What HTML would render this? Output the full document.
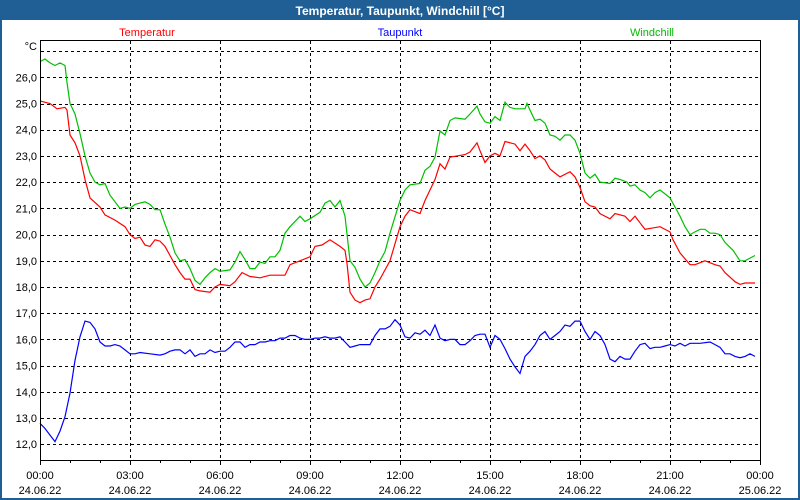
<!DOCTYPE html>
<html><head><meta charset="utf-8"><style>
html,body{margin:0;padding:0;background:#fff;}
svg{display:block;font-family:"Liberation Sans",sans-serif;}
</style></head><body>
<svg id="chart" width="800" height="500" viewBox="0 0 800 500" xmlns="http://www.w3.org/2000/svg">
<rect x="0" y="0" width="800" height="500" fill="#1f5f96"/>
<rect x="2" y="20" width="796" height="478" fill="#fff"/>
<text x="400" y="15" text-anchor="middle" fill="#fff" font-weight="bold" font-size="12">Temperatur, Taupunkt, Windchill [°C]</text>
<text x="147" y="36" text-anchor="middle" fill="#ff0000" font-size="11">Temperatur</text>
<text x="400" y="36" text-anchor="middle" fill="#0000ff" font-size="11">Taupunkt</text>
<text x="652" y="36" text-anchor="middle" fill="#00bb00" font-size="11">Windchill</text>
<text x="37" y="50" text-anchor="end" font-size="11" fill="#000">°C</text>
<g id="grid"></g>
<g id="axes"></g>
<g id="series"></g>
<rect x="40.5" y="40.5" width="720" height="420" fill="none" stroke="#000" stroke-width="1"/>
</svg>
<script>
const yTicks = [12,13,14,15,16,17,18,19,20,21,22,23,24,25,26];
const xTickHours = [0,3,6,9,12,15,18,21,24];
const xTimeLabels = ["00:00","03:00","06:00","09:00","12:00","15:00","18:00","21:00","00:00"];
const xDateLabels = ["24.06.22","24.06.22","24.06.22","24.06.22","24.06.22","24.06.22","24.06.22","24.06.22","25.06.22"];

const tempMin = [0,20,34,50,54,60,70,80,90,100,120,130,150,170,180,190,200,210,220,230,240,250,260,270,280,290,300,310,320,340,350,360,380,390,404,420,440,460,490,500,520,540,550,564,580,600,610,614,620,630,640,650,660,670,680,700,720,730,740,760,770,780,790,800,810,820,850,860,874,880,890,900,910,920,930,950,960,970,980,990,1000,1010,1020,1030,1040,1060,1070,1080,1090,1100,1110,1120,1140,1150,1170,1180,1190,1200,1210,1240,1260,1266,1280,1300,1310,1330,1350,1360,1370,1390,1400,1410,1430];
const tempVal = [25.1,25.0,24.8,24.85,24.75,23.8,23.5,23.0,22.1,21.4,21.05,20.75,20.55,20.3,20.0,19.85,19.9,19.6,19.55,19.8,19.75,19.55,19.2,18.85,18.55,18.3,18.3,17.9,17.85,17.8,18.0,18.1,18.05,18.2,18.55,18.4,18.35,18.45,18.45,18.85,19.0,19.15,19.55,19.6,19.8,19.55,19.4,18.9,17.8,17.5,17.4,17.5,17.55,18.0,18.3,19.0,20.3,20.7,20.95,20.8,21.3,21.7,22.1,22.7,22.5,22.95,23.05,23.15,23.5,23.2,22.75,23.0,23.1,23.0,23.55,23.45,23.2,23.45,23.2,22.9,23.0,22.85,22.5,22.35,22.2,22.4,22.2,21.8,21.25,21.1,21.05,20.8,20.6,20.8,20.7,20.5,20.7,20.45,20.2,20.3,20.1,19.8,19.3,18.85,18.85,19.0,18.85,18.8,18.55,18.2,18.1,18.15,18.15];

const chillMin = [0,10,20,30,40,50,54,60,70,80,90,100,110,120,130,140,150,160,170,180,190,210,220,230,240,250,260,270,280,290,300,310,320,330,340,350,360,380,390,400,410,420,430,440,450,460,470,480,490,500,520,530,540,560,570,580,590,600,610,620,630,640,650,660,670,680,690,700,720,730,740,760,770,780,790,800,810,820,830,850,860,874,880,890,900,910,920,930,940,950,970,974,980,990,1000,1010,1020,1030,1040,1050,1060,1070,1080,1090,1100,1110,1120,1140,1150,1160,1174,1180,1190,1200,1210,1220,1230,1240,1250,1260,1270,1280,1290,1300,1310,1320,1330,1340,1350,1360,1370,1386,1400,1410,1420,1430];
const chillVal = [26.6,26.7,26.55,26.45,26.55,26.45,25.8,25.0,24.6,23.85,23.0,22.35,22.0,21.9,21.95,21.5,21.25,21.0,21.05,21.0,21.15,21.25,21.15,20.95,20.95,20.4,19.9,19.3,19.0,19.05,18.7,18.25,18.1,18.35,18.55,18.7,18.6,18.65,18.95,19.35,19.05,18.7,18.7,18.95,18.9,19.15,19.15,19.4,20.05,20.3,20.7,20.5,20.6,20.85,21.2,21.3,21.05,21.3,20.7,19.0,18.75,18.3,18.0,18.15,18.55,19.0,19.35,20.05,21.3,21.7,21.9,21.95,22.45,22.6,22.95,23.95,23.8,24.35,24.45,24.4,24.6,24.9,24.6,24.3,24.25,24.5,24.35,25.05,24.85,24.8,24.8,25.0,24.75,24.35,24.4,24.25,23.8,23.75,23.6,23.8,23.8,23.6,23.1,22.35,22.15,22.3,22.0,21.95,22.15,22.1,22.0,21.85,21.9,21.7,21.6,21.4,21.6,21.7,21.55,21.4,21.05,20.7,20.3,20.0,20.1,20.2,20.2,20.05,20.05,20.0,19.7,19.4,19.0,19.0,19.1,19.2];

const dewMin = [0,10,20,30,40,50,60,70,80,90,100,110,120,130,140,150,160,170,180,190,200,220,240,250,260,270,280,290,300,310,320,330,340,350,360,370,380,390,400,410,420,430,440,450,460,470,480,490,500,510,520,530,540,550,560,570,580,590,600,610,620,630,640,650,660,670,680,690,700,710,720,730,740,750,760,770,780,790,800,810,820,830,840,850,860,870,880,890,900,910,920,930,940,950,960,970,980,990,1000,1010,1020,1030,1040,1050,1060,1070,1080,1090,1100,1110,1120,1130,1140,1150,1160,1170,1180,1190,1200,1210,1220,1230,1240,1250,1260,1270,1280,1290,1300,1320,1340,1350,1360,1370,1380,1390,1400,1410,1420,1430];
const dewVal = [12.8,12.6,12.35,12.1,12.5,13.05,13.95,15.2,16.1,16.7,16.65,16.4,15.9,15.75,15.75,15.8,15.75,15.6,15.45,15.45,15.5,15.45,15.4,15.45,15.55,15.6,15.6,15.45,15.6,15.35,15.45,15.45,15.6,15.5,15.55,15.55,15.7,15.9,15.9,15.7,15.8,15.8,15.9,15.9,15.95,15.95,16.05,16.05,16.15,16.15,16.05,16.0,16.0,16.05,16.05,16.1,16.05,16.05,16.1,15.9,15.7,15.75,15.8,15.8,15.8,16.15,16.4,16.4,16.5,16.75,16.55,16.1,16.05,16.25,16.2,16.35,16.15,16.55,16.05,15.95,16.0,16.0,15.8,15.8,15.95,16.15,16.2,16.2,15.7,16.15,16.0,15.65,15.25,14.95,14.7,15.35,15.55,15.8,16.15,16.3,16.0,16.15,16.3,16.55,16.5,16.7,16.7,16.3,16.0,16.3,16.15,15.8,15.25,15.15,15.35,15.25,15.25,15.55,15.8,15.85,15.65,15.7,15.7,15.75,15.8,15.75,15.85,15.75,15.85,15.85,15.9,15.8,15.7,15.45,15.45,15.35,15.3,15.35,15.45,15.35];

const NS = "http://www.w3.org/2000/svg";
function yScale(v){ return 77.3 + (26 - v) * 26.21; }
function xScale(min){ return 40 + min / 2; }
function xHour(h){ return 40 + h * 30; }

const grid = document.getElementById('grid');
const axes = document.getElementById('axes');
const series = document.getElementById('series');

// horizontal gridlines (incl. unlabeled 27)
[...yTicks, 27].forEach(v => {
  const y = Math.round(yScale(v)) + 0.5;
  const l = document.createElementNS(NS, 'line');
  l.setAttribute('x1', 41); l.setAttribute('x2', 760);
  l.setAttribute('y1', y); l.setAttribute('y2', y);
  l.setAttribute('stroke', '#000'); l.setAttribute('stroke-dasharray', '3,3');
  
  
  grid.appendChild(l);
});
yTicks.forEach(v => {
  const t = document.createElementNS(NS, 'text');
  t.setAttribute('x', 37); t.setAttribute('y', yScale(v) + 4);
  t.setAttribute('text-anchor', 'end'); t.setAttribute('font-size', '11');
  t.textContent = v.toFixed(1).replace('.', ',');
  
  
  axes.appendChild(t);
});
// vertical gridlines
xTickHours.forEach((h, i) => {
  const x = Math.round(xHour(h)) + 0.5;
  if (h > 0 && h < 24) {
    const l = document.createElementNS(NS, 'line');
    l.setAttribute('x1', x); l.setAttribute('x2', x);
    l.setAttribute('y1', 41); l.setAttribute('y2', 460);
    l.setAttribute('stroke', '#000'); l.setAttribute('stroke-dasharray', '3,3');
    
    
    grid.appendChild(l);
  }
  const t1 = document.createElementNS(NS, 'text');
  t1.setAttribute('x', xHour(h)); t1.setAttribute('y', 479);
  t1.setAttribute('text-anchor', 'middle'); t1.setAttribute('font-size', '11');
  t1.textContent = xTimeLabels[i];
  
  
  axes.appendChild(t1);
  const t2 = document.createElementNS(NS, 'text');
  t2.setAttribute('x', xHour(h)); t2.setAttribute('y', 494);
  t2.setAttribute('text-anchor', 'middle'); t2.setAttribute('font-size', '11');
  t2.textContent = xDateLabels[i];
  
  
  axes.appendChild(t2);
});
// hourly ticks
for (let h = 0; h <= 24; h++) {
  const x = Math.round(xHour(h)) + 0.5;
  const l = document.createElementNS(NS, 'line');
  l.setAttribute('x1', x); l.setAttribute('x2', x);
  l.setAttribute('y1', 460); l.setAttribute('y2', h % 3 === 0 ? 465 : 463);
  l.setAttribute('stroke', '#000');
  
  
  axes.appendChild(l);
}
function drawLine(mins, vals, color, name) {
  const p = document.createElementNS(NS, 'polyline');
  p.setAttribute('points', mins.map((m, i) => xScale(m).toFixed(1) + ',' + yScale(vals[i]).toFixed(1)).join(' '));
  p.setAttribute('fill', 'none'); p.setAttribute('stroke', color); p.setAttribute('stroke-width', '1.2');
  
  
  series.appendChild(p);
}
drawLine(dewMin, dewVal, '#0000ff', 'taupunkt-line');
drawLine(tempMin, tempVal, '#ff0000', 'temperatur-line');
drawLine(chillMin, chillVal, '#00c000', 'windchill-line');
</script>
</body></html>
